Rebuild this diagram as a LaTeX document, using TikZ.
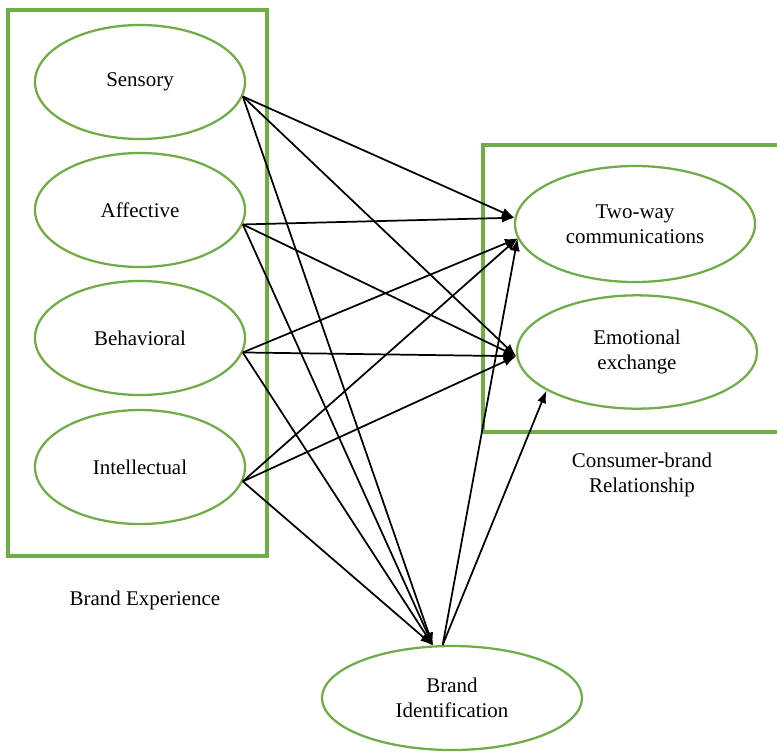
\documentclass[tikz,border=0pt]{standalone}
\usepackage{fontspec}
\setmainfont{Liberation Serif}
\usepackage{xcolor}
\usetikzlibrary{shapes.geometric, arrows.meta}
\definecolor{boxgreen}{RGB}{112,173,71}

\begin{document}
\begin{tikzpicture}[x=0.75pt, y=-0.75pt,
    every node/.style={font=\fontsize{15.7pt}{19pt}\selectfont, align=center},
    factor/.style={ellipse, draw=boxgreen, line width=1.7pt, minimum width=157.5pt, minimum height=85.5pt},
    group/.style={draw=boxgreen, line width=2.8pt},
    link/.style={-{Latex[length=9.5pt, width=7pt]}, line width=1.3pt}]
    \useasboundingbox (0,0) rectangle (777,751);
    % brand experience
    \draw[group] (8,10) rectangle (267,556);
    \node[factor] (sensory) at (140,82) {Sensory};
    \node[factor] (affective) at (140,210) {Affective};
    \node[factor] (behavioral) at (140,338) {Behavioral};
    \node[factor] (intellectual) at (140,467) {Intellectual};
    \node (experience) at (145,600) {Brand Experience};
    % consumer-brand relationship
    \draw[group] (483,145) rectangle (790,432);
    \node[factor, minimum width=180pt, minimum height=87pt] (twoway) at (635,224) {Two-way\\communications};
    \node[factor, minimum width=180pt, minimum height=85pt] (emotional) at (637,352) {Emotional\\exchange};
    \node (relationship) at (642,475) {Consumer-brand\\Relationship};
    % brand identification
    \node[factor, minimum width=195pt, minimum height=78pt] (identification) at (452,698) {Brand\\Identification};

    \draw[link] (sensory.-8) -- (twoway.177);
    \draw[link] (sensory.-8) -- (emotional.182);
    \draw[link] (sensory.-8) -- (identification.110);
    \draw[link] (affective.-8) -- (twoway.177);
    \draw[link] (affective.-8) -- (emotional.182);
    \draw[link] (affective.-8) -- (identification.110);
    \draw[link] (behavioral.-8) -- (twoway.187);
    \draw[link] (behavioral.-8) -- (emotional.182);
    \draw[link] (behavioral.-8) -- (identification.110);
    \draw[link] (intellectual.-8) -- (twoway.187);
    \draw[link] (intellectual.-8) -- (emotional.182);
    \draw[link] (intellectual.-8) -- (identification.110);
    \draw[link] (identification.100) -- (twoway.187);
    \draw[link] (identification.100) -- (emotional.203);
\end{tikzpicture}
\end{document}
